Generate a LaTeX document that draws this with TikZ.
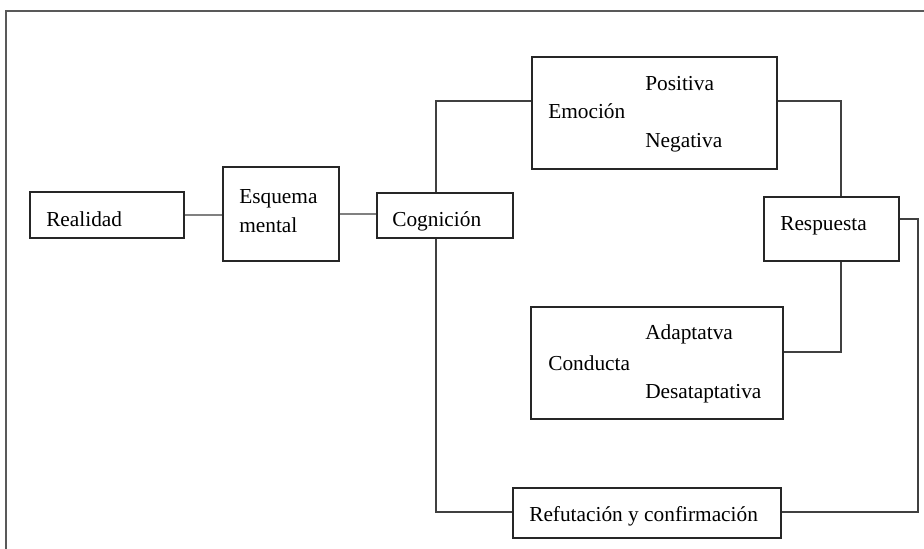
\documentclass[tikz,border=0pt]{standalone}
\usepackage{fontspec}
\setmainfont{Liberation Serif}
\begin{document}
\begin{tikzpicture}[x=0.75pt,y=-0.75pt,
  box/.style={draw=black!85, line width=1pt, rectangle, inner sep=0pt},
  txt/.style={anchor=base west, inner sep=0pt, font=\fontsize{16}{20}\selectfont},
  link/.style={draw=black!75, line width=0.95pt},
  softlink/.style={draw=black!50, line width=1.1pt},
  frame/.style={draw=black!65, line width=1.7pt}]
\useasboundingbox (0,0) rectangle (924,549);
% outer frame (top and left edges)
\draw[frame] (6,549) -- (6,11) -- (924,11);

% boxes
\node[box, minimum width=115.5pt, minimum height=34.5pt] (realidad) at (107,215) {};
\node[box, minimum width=87pt, minimum height=70.5pt] (esquema) at (281,214) {};
\node[box, minimum width=102pt, minimum height=33.75pt] (cognicion) at (445,215.5) {};
\node[box, minimum width=183.75pt, minimum height=84pt] (emocion) at (654.5,113) {};
\node[box, minimum width=101.25pt, minimum height=48pt] (respuesta) at (831.5,229) {};
\node[box, minimum width=189pt, minimum height=84pt] (conducta) at (657,363) {};
\node[box, minimum width=201pt, minimum height=37.5pt] (refutacion) at (647,513) {};

% labels
\node[txt] (t-realidad) at (46,226) {Realidad};
\node[txt] (t-esquema) at (239,203) {Esquema};
\node[txt] (t-mental) at (239,232) {mental};
\node[txt] (t-cognicion) at (392,226) {Cognición};
\node[txt] (t-emocion) at (548,119) {Emoción};
\node[txt] (t-positiva) at (645,91) {Positiva};
\node[txt] (t-negativa) at (645,147) {Negativa};
\node[txt] (t-respuesta) at (780,230) {Respuesta};
\node[txt] (t-conducta) at (548,370) {Conducta};
\node[txt] (t-adapt) at (645,339) {Adaptatva};
\node[txt] (t-desadapt) at (645,398) {Desataptativa};
\node[txt] (t-refut) at (529,521) {Refutación y confirmación};

% routing guides
\coordinate (cx) at (436,101);
\coordinate (rx) at (841,352);
\coordinate (ox) at (918,219);
\coordinate (bx) at (918,512);

% connectors
\draw[softlink] (realidad.east) -- (realidad.east -| esquema.west);
\draw[softlink] (esquema.east) -- (esquema.east -| cognicion.west);
\draw[link] (cognicion.north -| cx) |- (emocion.west |- cx);
\draw[link] (emocion.east |- cx) -| (respuesta.north -| rx);
\draw[link] (respuesta.south -| rx) |- (conducta.east |- rx);
\draw[link] (respuesta.east |- ox) -| (bx) -- (refutacion.east |- bx);
\draw[link] (cognicion.south -| cx) |- (refutacion.west |- bx);
\end{tikzpicture}
\end{document}
